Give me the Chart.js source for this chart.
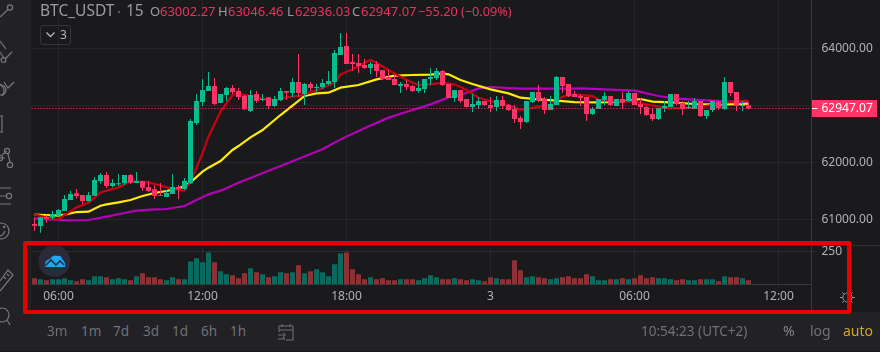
<!DOCTYPE html>
<html>
<head>
<meta charset="utf-8">
<title>BTC_USDT</title>
<script src="https://cdn.jsdelivr.net/npm/chart.js@4/dist/chart.umd.min.js"></script>
<style>
html,body{margin:0;padding:0;background:#1a1a1d;overflow:hidden}
#wrap{position:relative;width:880px;height:352px;overflow:hidden;font-family:"Noto Sans",sans-serif;background:#1a1a1d}
canvas{position:absolute;left:0;top:0;z-index:1}
.abs{position:absolute;z-index:2;white-space:nowrap;line-height:1}
.panel{position:absolute;z-index:2;background:#222226}
.lab{color:#9a9ca3;font-size:13px}
.val{color:#e8335f;font-size:13px}
.tf{color:#707177;font-size:13.5px}
</style>
</head>
<body>
<div id="wrap">
<canvas id="c" width="880" height="352"></canvas>
<div class="panel" style="left:0;top:0;width:31px;height:352px"></div>
<div class="panel" style="left:0;top:312px;width:880px;height:39px"></div>
<div class="panel" style="left:0;top:351px;width:880px;height:1px;background:#17171a"></div>
<div class="panel" style="left:812px;top:245px;width:68px;height:1px;background:#2e2e33"></div>
<div class="panel" style="left:31px;top:245px;width:781px;height:1px;background:#2a2a2e"></div>
<div class="panel" style="left:811px;top:284px;width:1px;height:28px;background:#37383c"></div>

<svg class="abs" style="left:0;top:0" width="31" height="352" fill="none" stroke="#77787e" stroke-width="1.2">
 <circle cx="10" cy="7.5" r="2.6"/><path d="M8 9.5L0 17"/>
 <path d="M0 41L6 49M12 52L5 59M0 52L4 58"/><circle cx="3.5" cy="60" r="2.4"/>
 <path d="M4 82L8 88L14 82M0 84Q7 90 2 96"/><circle cx="1" cy="90" r="5"/>
 <path d="M0 116H3M2 116V132M0 132H3"/>
 <path d="M2 155L7 151M8 154L10 162M5 158L0 158"/><circle cx="7" cy="151" r="2.6"/><circle cx="10" cy="165" r="2.6"/><circle cx="0" cy="158" r="2.6"/>
 <path d="M0 188H11M0 196H6M0 204H11"/><circle cx="9" cy="196" r="2.6"/>
 <circle cx="1" cy="231" r="8"/><path d="M-2 235Q2 238 5 231"/><circle cx="4" cy="227" r=".6"/>
 <path d="M0 281L8 270L13 275L0 291M4 277L6 279M7 274L9 276"/>
 <circle cx="2" cy="315" r="7"/><path d="M7 320L10 325"/>
</svg>

<div class="abs" style="left:40px;top:3px;color:#9a9ca3;font-size:15.5px">BTC_USDT</div>
<div class="abs" style="left:117px;top:4px;color:#6e6f75;font-size:15px">·</div>
<div class="abs" style="left:126px;top:3px;color:#9a9ca3;font-size:15.5px">15</div>
<div class="abs lab" style="left:150px;top:5px">O</div><div class="abs val" style="left:160px;top:5px">63002.27</div>
<div class="abs lab" style="left:218px;top:5px">H</div><div class="abs val" style="left:228px;top:5px">63046.46</div>
<div class="abs lab" style="left:287px;top:5px">L</div><div class="abs val" style="left:295px;top:5px">62936.03</div>
<div class="abs lab" style="left:352px;top:5px">C</div><div class="abs val" style="left:361px;top:5px">62947.07</div>
<div class="abs val" style="left:418px;top:5px;font-size:12.7px">−55.20 (−0.09%)</div>

<div class="abs" style="left:40px;top:25px;width:31px;height:20px;border:1px solid #34353b;border-radius:3px;box-sizing:border-box"></div>
<svg class="abs" style="left:45px;top:31px" width="11" height="8" fill="none" stroke="#b4b5ba" stroke-width="1.3"><path d="M1.5 1.5L5.5 5.5L9.5 1.5"/></svg>
<div class="abs" style="left:60px;top:29px;color:#b4b5ba;font-size:12px">3</div>

<svg class="abs" style="left:38px;top:245px" width="33" height="33">
 <circle cx="16.4" cy="16" r="16" fill="#2a2a38"/>
 <path d="M7 22Q6 15 12 14Q15 9 20 11Q23 10 24 14Q28 17 27 22Z" fill="#1ea7f2"/>
 <path d="M7 21L13 15L18 20L22 16L26 20" fill="none" stroke="#22304a" stroke-width="1.6"/>
</svg>

<svg class="abs" style="left:840px;top:290px" width="15" height="15" fill="none" stroke="#8e8f95" stroke-width="1">
 <circle cx="7.5" cy="7.5" r="4.6"/><path d="M7.5 0V3M7.5 12V15M0 7.5H3M12 7.5H15M2.2 2.2L4.2 4.2M10.8 10.8L12.8 12.8M12.8 2.2L10.8 4.2M4.2 10.8L2.2 12.8"/>
</svg>

<div class="abs tf" style="left:47px;top:325px">3m</div>
<div class="abs tf" style="left:81px;top:325px">1m</div>
<div class="abs tf" style="left:113px;top:325px">7d</div>
<div class="abs tf" style="left:143px;top:325px">3d</div>
<div class="abs tf" style="left:172px;top:325px">1d</div>
<div class="abs tf" style="left:201px;top:325px">6h</div>
<div class="abs tf" style="left:230px;top:325px">1h</div>
<svg class="abs" style="left:277px;top:323px" width="18" height="18" fill="none" stroke="#717278" stroke-width="1">
 <path d="M2 9V3H16V17H9M2 7H16M5 1V4M13 1V4M1 12H8M6 9.5L8.5 12L6 14.5"/><path d="M1 16H8M6 14L8 16"/>
</svg>
<div class="abs tf" style="left:641px;top:325px;font-size:13.5px">10:54:23 (UTC+2)</div>
<div class="abs" style="left:783px;top:324px;color:#84858b;font-size:14px">%</div>
<div class="abs" style="left:810px;top:324px;color:#707177;font-size:14px">log</div>
<div class="abs" style="left:843px;top:324px;color:#cfa42c;font-size:14px">auto</div>

<div class="abs" style="left:23px;top:241px;width:828px;height:73px;border:4px solid #e60000;border-radius:2px;box-sizing:border-box;z-index:3"></div>
</div>

<script>
// ---- data ----
const categories = ["05:00","05:15","05:30","05:45","06:00","06:15","06:30","06:45","07:00","07:15","07:30","07:45",
"08:00","08:15","08:30","08:45","09:00","09:15","09:30","09:45","10:00","10:15","10:30","10:45",
"11:00","11:15","11:30","11:45","12:00","12:15","12:30","12:45","13:00","13:15","13:30","13:45",
"14:00","14:15","14:30","14:45","15:00","15:15","15:30","15:45","16:00","16:15","16:30","16:45",
"17:00","17:15","17:30","17:45","18:00","18:15","18:30","18:45","19:00","19:15","19:30","19:45",
"20:00","20:15","20:30","20:45","21:00","21:15","21:30","21:45","22:00","22:15","22:30","22:45",
"23:00","23:15","23:30","23:45","3","00:15","00:30","00:45","01:00","01:15","01:30","01:45",
"02:00","02:15","02:30","02:45","03:00","03:15","03:30","03:45","04:00","04:15","04:30","04:45",
"05:00","05:15","05:30","05:45","06:00","06:15","06:30","06:45","07:00","07:15","07:30","07:45",
"08:00","08:15","08:30","08:45","09:00","09:15","09:30","09:45","10:00","10:15","10:30","10:45",
"11:00","11:15","11:30","11:45","12:00","12:15","12:30","12:45","13:00","13:15"];
const timeTickLabels = ["06:00","12:00","18:00","3"];
const priceTicks = [61000,62000,63000,64000];
const volumeTicks = [250];

const openPrices = [60921,60886,61044,61032,61067,61149,61342,61459,61430,61318,61418,61675,61780,61587,61617,61634,61780,61640,61675,61570,
61529,61430,61394,61447,61570,61535,61634,62693,63061,63254,63342,63044,63184,63307,63254,63167,62903,63202,63097,63143,
62991,63097,63254,63219,63412,63202,63377,63307,63319,63377,63412,63886,64044,63763,63746,63711,63658,63728,63623,63500,
63465,63342,63377,63342,63254,63289,63465,63482,63605,63377,63131,63272,63114,62973,63009,63079,63009,62973,63096,63009,
62938,62780,62710,63061,63237,63114,62921,63009,63500,63377,63202,63166,63149,62851,62938,63096,63166,62991,63114,63079,
63219,63026,62973,62851,62763,62950,62973,63202,63044,62956,62938,63079,62816,62921,63061,62938,63412,63237,62991,63002.27];
const highPrices = [61038,61038,61079,61149,61184,61430,61500,61535,61430,61482,61745,61810,61833,61704,61798,61780,61798,61833,61675,61675,
61599,61640,61517,61798,61605,61728,62763,63202,63465,63587,63482,63202,63324,63359,63307,63184,63272,63254,63202,63143,
63167,63307,63254,63482,63904,63395,63412,63377,63465,63605,63974,64272,64272,63904,63904,63816,63763,63781,63623,63623,
63535,63412,63447,63360,63430,63465,63658,63658,63623,63377,63272,63272,63114,63202,63149,63079,63149,63166,63166,63026,
63009,62816,63079,63237,63359,63149,63166,63517,63500,63377,63254,63202,63149,62973,63114,63237,63166,63114,63237,63254,
63219,63131,62991,62956,62956,63079,63202,63202,63079,63079,63131,63079,62921,63079,63079,63500,63412,63237,63079,63046.46];
const lowPrices = [60798,60769,60944,61003,61055,61149,61342,61365,61277,61318,61418,61628,61552,61564,61587,61605,61623,61640,61500,61482,
61359,61412,61394,61447,61359,61517,61623,62658,62991,63254,63009,63044,63073,63202,63096,62915,62886,63044,63079,62939,
62980,63079,63097,63149,63149,63009,63254,63219,63289,63360,63307,63886,63728,63605,63570,63640,63553,63500,63447,63447,
63360,63219,63272,63237,63219,63219,63360,63447,63342,63132,63061,63044,62973,62886,62938,62991,62886,62903,62938,62903,
62693,62587,62693,63044,63061,62851,62921,63009,63219,63149,63149,62991,62728,62833,62938,63009,62991,62991,62938,63061,
63009,62851,62816,62728,62745,62886,62973,63009,62833,62938,62938,62798,62763,62886,62921,62921,63166,62903,62903,62936.03];
const closePrices = [60892,61038,61014,61096,61166,61359,61447,61412,61324,61430,61693,61780,61587,61640,61634,61780,61646,61675,61558,61500,
61418,61418,61465,61570,61529,61675,62728,63079,63272,63342,63026,63202,63307,63237,63149,62933,63184,63079,63114,62991,
63114,63254,63225,63412,63219,63377,63307,63325,63395,63430,63921,64026,63728,63728,63693,63658,63728,63605,63465,63447,
63360,63377,63325,63254,63307,63465,63500,63605,63360,63132,63272,63079,62973,63026,63079,63009,62956,63096,62991,62921,
62763,62710,63079,63237,63096,62921,63026,63500,63342,63166,63149,63131,62851,62938,63114,63166,63009,63114,63061,63219,
63009,62973,62833,62763,62956,62991,63202,63026,62938,62973,63079,62816,62921,63079,62956,63412,63219,62991,63009,62947.07];
const volumes = [48,40,33,40,40,48,33,25,40,33,63,63,55,40,48,40,33,63,85,55,
55,40,33,55,40,40,175,198,168,243,168,100,78,70,48,85,123,93,78,55,
63,93,85,93,145,85,100,115,93,63,153,235,243,115,78,40,55,40,48,33,
33,40,40,40,33,48,70,55,40,40,48,40,33,40,33,25,55,48,40,40,
183,108,55,63,55,48,40,48,55,63,48,48,78,63,33,33,40,40,48,40,
48,70,48,55,48,48,40,33,40,33,33,40,40,40,25,63,55,55,48,33];

const redLineBars = [0,3,4,5,7,9,11,12,14,16,17,19,21,23,25,26,28,29,31,33,34,36,38,40,42,44,46,48,50,51,53,55,56,57,59,61,63,64,66,68,70,72,74,77,79,81,84,86,88,90,93,94,98,100,102,104,106,110,113,116,119];
const redLineValues = [61090,61008,61003,61079,61213,61295,61476,61506,61564,61669,61663,61652,61599,61535,61506,61663,62161,62453,62892,63184,63202,63167,63120,63091,63143,63167,63231,63301,63401,63547,63635,63751,63798,63751,63623,63506,63401,63360,63371,63400,63371,63272,63137,63049,63009,62921,62979,63009,63155,63190,63166,63096,63067,63067,63020,62979,62950,62962,63009,63067,63085];
const yellowLineBars = [0,2,4,5,7,9,11,12,14,16,18,20,22,24,25,26,28,29,31,33,34,36,38,41,43,45,47,49,51,54,57,60,63,66,68,69,71,73,76,79,81,84,87,90,94,98,101,103,106,110,112,115,118,119];
const yellowLineValues = [61085,61079,61067,61085,61131,61137,61242,61266,61301,61342,61412,61465,61500,61547,61587,61652,61839,61909,62026,62220,62289,62442,62570,62833,62997,63167,63213,63225,63313,63360,63459,63523,63535,63541,63564,63547,63447,63377,63283,63213,63137,63108,63085,63061,63055,63067,63114,63067,63055,63026,63020,63020,63026,63032];
const magentaLineBars = [0,3,6,9,12,15,17,20,22,25,27,29,31,34,48,51,55,59,63,66,69,71,74,76,81,86,91,95,100,104,107,112,116,119];
const magentaLineValues = [61020,60997,60985,60991,61049,61114,61155,61178,61184,61237,61342,61441,61506,61646,62231,62406,62599,62787,62921,63020,63143,63184,63301,63324,63295,63295,63301,63283,63260,63166,63120,63090,63067,63055];

const lastClose = closePrices[closePrices.length - 1];

// ---- styles ----
const UP = '#08bd8d', DOWN = '#ff3366', UPVOL = '#0b6a5e', DOWNVOL = '#8f3034';
const AXIS_TEXT = '#b0b2b9', GRID = '#26262a', FONT = '"Noto Sans", sans-serif';
const isUp = i => closePrices[i] >= openPrices[i];
const sparse = (bars, vals) => categories.map((_, i) => { const k = bars.indexOf(i); return k < 0 ? null : vals[k]; });
const candleColors = closePrices.map((_, i) => isUp(i) ? UP : DOWN);
const line = (data, color, order) => ({type:'line', data, yAxisID:'y', borderColor:color, borderWidth:2.2, pointRadius:0, spanGaps:true, tension:0, order});
const noPad = s => { s.paddingTop = s.paddingBottom = s.paddingLeft = s.paddingRight = 0; };

const lastPricePlugin = {
  id:'lastPrice',
  afterDatasetsDraw(chart){
    const {ctx, chartArea:a, scales:{y}} = chart;
    const py = Math.floor(y.getPixelForValue(lastClose)) + .5;
    ctx.save();
    ctx.strokeStyle = DOWN; ctx.lineWidth = 1; ctx.setLineDash([1,2]);
    ctx.beginPath(); ctx.moveTo(a.left, py); ctx.lineTo(a.right, py); ctx.stroke();
    ctx.restore();
  },
  afterDraw(chart){
    const {ctx, chartArea:a, scales:{y}} = chart;
    const py = Math.floor(y.getPixelForValue(lastClose)) + .5;
    ctx.save();
    ctx.fillStyle = DOWN;
    ctx.fillRect(a.right + .5, py - 8.5, 65, 17);
    ctx.strokeStyle = '#ffffff'; ctx.lineWidth = 1;
    ctx.beginPath(); ctx.moveTo(a.right + .5, py); ctx.lineTo(a.right + 6, py); ctx.stroke();
    ctx.fillStyle = '#ffffff'; ctx.font = '12px ' + FONT;
    ctx.textAlign = 'left'; ctx.textBaseline = 'middle';
    ctx.fillText(lastClose.toFixed(2), a.right + 10, py + .5);
    ctx.restore();
  }
};

new Chart(document.getElementById('c'), {
  type:'bar',
  plugins:[lastPricePlugin],
  data:{
    labels:categories,
    datasets:[
      {label:'Volume', data:volumes, yAxisID:'v', backgroundColor:volumes.map((_, i) => isUp(i) ? UPVOL : DOWNVOL), barThickness:5, grouped:false, order:6, borderWidth:0, inflateAmount:0},
      line(sparse(magentaLineBars, magentaLineValues), '#b400b8', 5),
      line(sparse(yellowLineBars, yellowLineValues), '#ffec00', 4),
      line(sparse(redLineBars, redLineValues), '#c80012', 3),
      {label:'Wick', data:closePrices.map((_, i) => [lowPrices[i], highPrices[i]]), yAxisID:'y', backgroundColor:candleColors, barThickness:1, grouped:false, order:2, borderWidth:0, inflateAmount:0},
      {label:'Body', data:closePrices.map((_, i) => [openPrices[i], closePrices[i]]), yAxisID:'y', backgroundColor:candleColors, barThickness:5, grouped:false, order:1, borderWidth:0, inflateAmount:0}
    ]
  },
  options:{
    responsive:false, animation:false, devicePixelRatio:1,
    layout:{autoPadding:false, padding:{left:31.5, right:0, top:0, bottom:0}},
    plugins:{legend:{display:false}, tooltip:{enabled:false}, title:{display:false}},
    events:[],
    scales:{
      x:{
        offset:true,
        grid:{offset:false, color:GRID, drawTicks:true, tickLength:4},
        border:{color:'#37383c'},
        ticks:{autoSkip:false, maxRotation:0, minRotation:0, padding:1, color:AXIS_TEXT, font:{family:FONT, size:12}},
        afterBuildTicks(s){ s.ticks = s.ticks.filter(t => timeTickLabels.includes(categories[t.value])); },
        afterFit(s){ s.height = 67.5; noPad(s); }
      },
      v:{
        position:'right', weight:-1, min:0, max:2155,
        grid:{color:'#2c2c31', drawTicks:true, tickLength:5},
        border:{display:false},
        ticks:{mirror:true, padding:30.5, color:AXIS_TEXT, font:{family:FONT, size:12}, callback:v => String(v)},
        afterBuildTicks(s){ s.ticks = volumeTicks.map(value => ({value})); },
        afterFit(s){ s.width = 0; noPad(s); }
      },
      y:{
        position:'right', weight:0, min:59859.6, max:64851,
        grid:{color:GRID, drawTicks:true, tickLength:5},
        border:{color:'#37383c'},
        ticks:{padding:5, color:AXIS_TEXT, font:{family:FONT, size:12}, callback:v => v.toFixed(2)},
        afterBuildTicks(s){ s.ticks = priceTicks.map(value => ({value})); },
        afterFit(s){ s.width = 68.5; noPad(s); }
      }
    }
  }
});
</script>
</body>
</html>
